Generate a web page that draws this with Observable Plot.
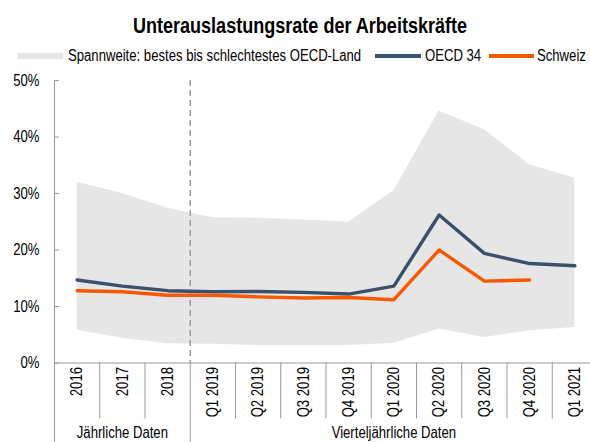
<!DOCTYPE html>
<html>
<head>
<meta charset="utf-8">
<script src="https://cdn.jsdelivr.net/npm/d3@7"></script>
<script src="https://cdn.jsdelivr.net/npm/@observablehq/plot@0.6"></script>
<style>
  html, body { margin: 0; padding: 0; background: #fff; overflow: hidden; }
  body { width: 590px; height: 442px; font-family: "Liberation Sans", Arial, sans-serif; color: #000; }
  #head { position: relative; width: 590px; height: 70px; }
  #title { position: absolute; left: 0; width: 600px; top: 12.7px; line-height: 26px; text-align: center; font-size: 22px; font-weight: bold; transform: scaleX(0.82); transform-origin: 300px 0; }
  .lg { position: absolute; top: 45.5px; line-height: 19px; font-size: 16px; white-space: nowrap; transform: scaleX(0.82); transform-origin: 0 0; }
  .sw { position: absolute; }
  #chart svg { display: block; }
</style>
</head>
<body>
<div id="head">
  <div id="title">Unterauslastungsrate der Arbeitskräfte</div>
  <div class="sw" style="left:18px;top:52.7px;width:45px;height:6.6px;background:#e6e6e6"></div>
  <div class="lg" style="left:68px">Spannweite: bestes bis schlechtestes OECD-Land</div>
  <div class="sw" style="left:375px;top:54.3px;width:46px;height:3.4px;background:#3b506a"></div>
  <div class="lg" style="left:425px">OECD 34</div>
  <div class="sw" style="left:489px;top:54.3px;width:45px;height:3.4px;background:#f95800"></div>
  <div class="lg" style="left:537px">Schweiz</div>
</div>
<div id="chart"></div>
<script>
// Categories (x axis)
const categories = ["2016", "2017", "2018", "Q1 2019", "Q2 2019", "Q3 2019", "Q4 2019",
                    "Q1 2020", "Q2 2020", "Q3 2020", "Q4 2020", "Q1 2021"];
// Range: best to worst OECD country (%)
const rangeLow  = [5.8, 4.4, 3.4, 3.3, 3.1, 3.1, 3.1, 3.5, 6.0, 4.5, 5.7, 6.3];
const rangeHigh = [32.0, 30.0, 27.4, 25.7, 25.6, 25.3, 24.9, 30.5, 44.6, 41.3, 35.1, 32.7];
// Series (%)
const oecd34  = [14.7, 13.6, 12.8, 12.6, 12.65, 12.5, 12.2, 13.6, 26.2, 19.4, 17.6, 17.2];
const schweiz = [12.8, 12.6, 12.0, 12.0, 11.7, 11.5, 11.6, 11.2, 20.0, 14.5, 14.7, null];
// Groups of the x axis
const groups = [
  {label: "Jährliche Daten", start: 0, end: 2},
  {label: "Vierteljährliche Daten", start: 3, end: 11}
];
const yTicks = [0, 10, 20, 30, 40, 50];

const rows = categories.map((c, i) => ({
  i, cat: c, lo: rangeLow[i], hi: rangeHigh[i], oecd: oecd34[i], ch: schweiz[i]
}));
const groupBounds = [groups[0].start - 0.5, ...groups.map(g => g.end + 0.5)];
const innerBounds = d3.range(categories.length - 1).map(i => i + 0.5)
  .filter(b => !groupBounds.includes(b));
const groupLabels = groups.map(g => ({label: g.label, x: (g.start + g.end) / 2}));

const grey = "#999";
const chart = Plot.plot({
  width: 590,
  height: 372,
  marginLeft: 54,
  marginRight: 0,
  marginTop: 10,
  marginBottom: 79.5,
  style: {fontFamily: "'Liberation Sans', Arial, sans-serif", fontSize: "16px", color: "#000", background: "#fff", overflow: "visible"},
  x: {type: "linear", domain: [-0.5, categories.length - 0.5], range: [54, 597]},
  y: {domain: [0, 50]},
  marks: [
    Plot.areaY(rows, {x: "i", y1: "lo", y2: "hi", fill: "#e6e6e6"}),
    Plot.ruleX([groupBounds[1]], {stroke: grey, strokeWidth: 1.5, strokeDasharray: "6,4"}),
    Plot.lineY(rows, {x: "i", y: "oecd", stroke: "#3b506a", strokeWidth: 3.4}),
    Plot.lineY(rows.filter(d => d.ch != null), {x: "i", y: "ch", stroke: "#f95800", strokeWidth: 3.4}),
    Plot.ruleY([0], {stroke: grey}),
    Plot.ruleX([groupBounds[0]], {stroke: grey}),
    Plot.axisY({ticks: yTicks, tickFormat: d => d + "%", tickSize: 5, dx: 5, tickPadding: 15, stroke: grey, label: null, fontSize: 16}),
    Plot.axisX({ticks: d3.range(categories.length), tickFormat: i => categories[i], tickSize: 0, tickRotate: -90, tickPadding: 4, label: null, fontSize: 16}),
    Plot.axisX({ticks: innerBounds, tickSize: 56, text: null, stroke: grey, label: null}),
    Plot.axisX({ticks: groupBounds, tickSize: 80, text: null, stroke: grey, label: null}),
    Plot.text(groupLabels, {x: "x", text: "label", frameAnchor: "bottom", dy: 69.5, lineAnchor: "middle", fontSize: 16})
  ]
});
document.getElementById("chart").appendChild(chart);
// narrow the glyphs (reference uses a condensed face)
chart.querySelectorAll("text").forEach(t => {
  const len = t.getComputedTextLength();
  if (len > 0) {
    t.setAttribute("textLength", (len * 0.82).toFixed(2));
    t.setAttribute("lengthAdjust", "spacingAndGlyphs");
  }
});
</script>
</body>
</html>
